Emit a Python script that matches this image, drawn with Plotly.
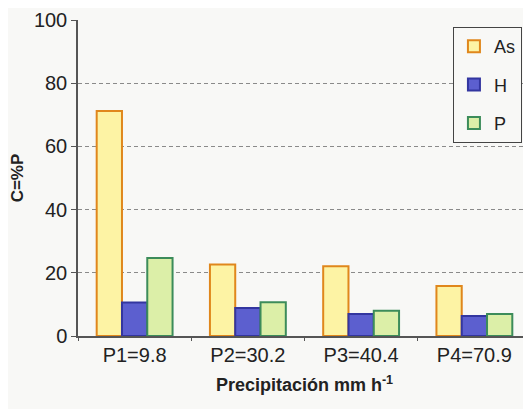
import plotly.graph_objects as go

categories = ["P1=9.8", "P2=30.2", "P3=40.4", "P4=70.9"]
as_vals = [71.2, 22.6, 22.1, 15.8]
h_vals = [10.6, 8.9, 7.0, 6.3]
p_vals = [24.7, 10.7, 8.0, 7.0]
y_ticks = [0, 20, 40, 60, 80, 100]

fig = go.Figure()
series = [
    ("As", as_vals, "#fdf3a4", "#e0871c"),
    ("H", h_vals, "#5c5fcf", "#3336a0"),
    ("P", p_vals, "#dcefa8", "#3c8c5a"),
]
for name, vals, fill, edge in series:
    fig.add_trace(go.Bar(
        x=categories, y=vals, name=name, legendgroup=name,
        marker=dict(color=fill, line=dict(color=edge, width=2)),
    ))

# the page body has an 8px margin, so the figure is made 8px smaller
fig.update_layout(
    width=523, height=401,
    margin=dict(l=70, r=0, t=12, b=73, autoexpand=False),
    paper_bgcolor="#f8f8f6", plot_bgcolor="#f8f8f6",
    font=dict(family="Arial, Liberation Sans", color="#222", size=20),
    barmode="group", bargap=0.33, bargroupgap=0,
    showlegend=True,
    legend=dict(x=0.98, y=0.978, xanchor="right", yanchor="top",
                bordercolor="#444", borderwidth=1, bgcolor="#f8f8f6",
                font=dict(size=18), traceorder="grouped", tracegroupgap=12,
                itemwidth=30),
)
fig.update_yaxes(
    range=[0, 100], tickvals=y_ticks, showgrid=True, gridcolor="#8a8a8a",
    griddash="4px,3px", gridwidth=1, showline=True, linecolor="#555", linewidth=1.5,
    ticks="outside", ticklen=5, tickcolor="#555", zeroline=False, automargin=False,
    title=dict(text="<b>C=%P</b>", font=dict(size=17), standoff=10),
)
fig.update_xaxes(
    showline=True, linecolor="#555", linewidth=1.5, automargin=False,
    ticks="outside", tickson="boundaries", ticklen=3, tickcolor="#555",
    title=dict(text="<b>Precipitación mm h<sup>-1</sup></b>", font=dict(size=18), standoff=14),
)

fig.write_html("out.html")
